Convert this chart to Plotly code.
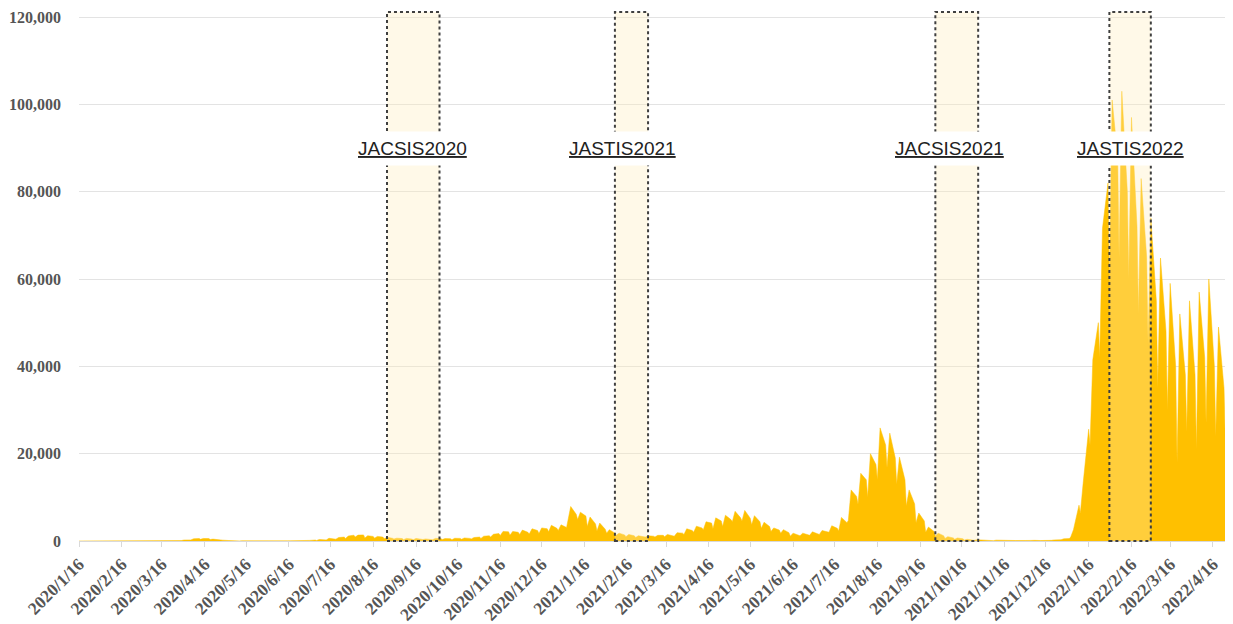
import pandas as pd
import plotly.graph_objects as go

# ---------------- data ----------------
week_start = "2020-01-13"   # first Monday of the weekly samples

# Monday (low), Wednesday (high), Sunday values per week
mon_vals = [0, 0, 1, 0, 1, 5, 12, 15, 25, 15,
            40, 90, 250, 390, 340, 150, 90, 20, 30, 20,
            30, 40, 40, 50, 90, 120, 250, 420, 600, 900,
            700, 650, 520, 430, 300, 280, 350, 300, 350, 300,
            400, 480, 600, 900, 1250, 1300, 1500, 1600, 1700, 2100,
            2400, 4900, 4900, 3300, 2300, 1800, 1300, 1000, 800, 900,
            900, 1000, 1100, 1500, 2000, 2600, 2800, 3300, 4400, 4600,
            3700, 2900, 2200, 1800, 1100, 1200, 1300, 1500, 2000, 2300,
            4700, 8400, 10000, 14000, 16800, 13000, 8000, 4200, 2000, 1100,
            600, 400, 230, 150, 90, 80, 70, 50, 80, 100,
            100, 150, 300, 900, 6400, 22000, 42000, 59000, 65000, 60000,
            52000, 45000, 35000, 30000, 18000, 25000, 21000, 27000, 24000, 22000]
wed_vals = [0, 1, 2, 2, 4, 12, 20, 35, 50, 40,
            90, 230, 510, 580, 430, 200, 100, 50, 30, 40,
            40, 40, 50, 80, 140, 350, 620, 800, 1150, 1350,
            1200, 1050, 850, 650, 600, 590, 480, 600, 550, 630,
            700, 800, 1100, 1550, 2200, 2200, 2500, 2800, 3000, 3600,
            3700, 7900, 6600, 5500, 4100, 2600, 1800, 1500, 1200, 1200,
            1300, 1500, 1900, 2800, 3400, 4400, 5300, 5900, 6800, 7000,
            5800, 4300, 3000, 2600, 1800, 1800, 2100, 2400, 3500, 5400,
            11700, 15500, 20000, 25900, 24700, 19200, 11700, 6400, 3200, 1800,
            1000, 700, 400, 300, 230, 200, 150, 110, 120, 150,
            180, 250, 500, 2600, 13200, 41500, 71600, 101000, 103000, 97000,
            83000, 74000, 64800, 59000, 52000, 55000, 57000, 60000, 49000, 47000]
sun_vals = [0, 0, 1, 0, 8, 10, 15, 40, 30, 40,
            130, 380, 560, 550, 200, 120, 50, 30, 15, 40,
            50, 50, 40, 110, 220, 400, 480, 900, 1330, 1400,
            1050, 900, 620, 560, 450, 480, 450, 550, 520, 600,
            600, 900, 1200, 1700, 2100, 2000, 2000, 2400, 2800, 2900,
            3100, 6100, 5700, 3900, 2700, 1800, 1400, 1200, 1000, 1100,
            1300, 1300, 1800, 2400, 3000, 4100, 4600, 4900, 5300, 5200,
            4400, 3300, 2500, 1900, 1400, 1500, 1700, 2100, 2900, 4200,
            10200, 14000, 17500, 22000, 19000, 14000, 8500, 4600, 2200, 1200,
            700, 500, 270, 250, 160, 150, 120, 120, 130, 110,
            200, 300, 550, 8200, 25600, 50000, 82000, 88000, 80000, 72000,
            65000, 55000, 48000, 40000, 38000, 38000, 42000, 40000, 35000, 33000]

survey_names = ["JACSIS2020", "JASTIS2021", "JACSIS2021", "JASTIS2022"]
survey_start = ["2020-08-26", "2021-02-07", "2021-09-27", "2022-01-31"]
survey_end = ["2020-10-03", "2021-03-03", "2021-10-28", "2022-03-02"]
label_shift = [-1, -9, -7, 0]

tick_labels = ["2020/1/16", "2020/2/16", "2020/3/16", "2020/4/16", "2020/5/16",
               "2020/6/16", "2020/7/16", "2020/8/16", "2020/9/16", "2020/10/16",
               "2020/11/16", "2020/12/16", "2021/1/16", "2021/2/16", "2021/3/16",
               "2021/4/16", "2021/5/16", "2021/6/16", "2021/7/16", "2021/8/16",
               "2021/9/16", "2021/10/16", "2021/11/16", "2021/12/16", "2022/1/16",
               "2022/2/16", "2022/3/16", "2022/4/16"]
y_ticks = [0, 20000, 40000, 60000, 80000, 100000, 120000]

# ---------------- build series ----------------
mondays = pd.date_range(week_start, periods=len(mon_vals), freq="7D")
dates, vals = [], []
for d, m, w, s in zip(mondays, mon_vals, wed_vals, sun_vals):
    dates += [d, d + pd.Timedelta(days=2), d + pd.Timedelta(days=6)]
    vals += [m, w, s]

tick_vals = pd.to_datetime(tick_labels, format="%Y/%m/%d")

fig = go.Figure()
fig.add_trace(go.Scatter(
    x=dates, y=vals, mode="lines", fill="tozeroy",
    line=dict(color="#FFC000", width=0.5), fillcolor="#FFC000",
    hoverinfo="x+y", showlegend=False))

for name, s, e, sh in zip(survey_names, survey_start, survey_end, label_shift):
    fig.add_shape(type="rect", xref="x", yref="paper", x0=s, x1=e, y0=0, y1=1,
                  fillcolor="rgba(255,236,185,0.32)", layer="above",
                  line=dict(color="#3f3f3f", width=2, dash="dot"))
    mid = pd.Timestamp(s) + (pd.Timestamp(e) - pd.Timestamp(s)) / 2
    fig.add_annotation(x=mid, y=90000, xref="x", yref="y",
                       text="<u>" + name + "</u>", showarrow=False,
                       xshift=sh, bgcolor="white", borderpad=6,
                       font=dict(family="Liberation Sans, Arial", size=19, color="#222222"))

x_font = dict(family="Liberation Serif, Times New Roman", size=17.5, color="#555555")
y_font = dict(family="Liberation Serif, Times New Roman", size=16, color="#555555")
fig.update_xaxes(
    type="date", range=["2020-01-16", "2022-04-30 12:00"],
    tickvals=tick_vals, ticktext=["<b>" + t + "</b>" for t in tick_labels],
    tickangle=-45, tickfont=x_font, automargin=False,
    showgrid=False, showline=True, linecolor="#d9d9d9", linewidth=1,
    ticks="outside", ticklen=5, tickcolor="#d9d9d9", zeroline=False)
fig.update_yaxes(
    range=[0, 121145], tickvals=y_ticks,
    ticktext=["<b>" + f"{v:,}" + "</b>" for v in y_ticks],
    tickfont=y_font, showgrid=True, gridcolor="#e3e3e3", gridwidth=1,
    automargin=False, ticklabeloverflow="allow",
    zeroline=False, showline=False, ticks="", ticklabelstandoff=17)

# page body has an 8px margin, so the figure is sized/offset to compensate
fig.update_layout(
    width=1225, height=616,
    margin=dict(l=71, r=0, t=4, b=83),
    plot_bgcolor="white", paper_bgcolor="white",
    showlegend=False)

fig.write_html("out.html")
